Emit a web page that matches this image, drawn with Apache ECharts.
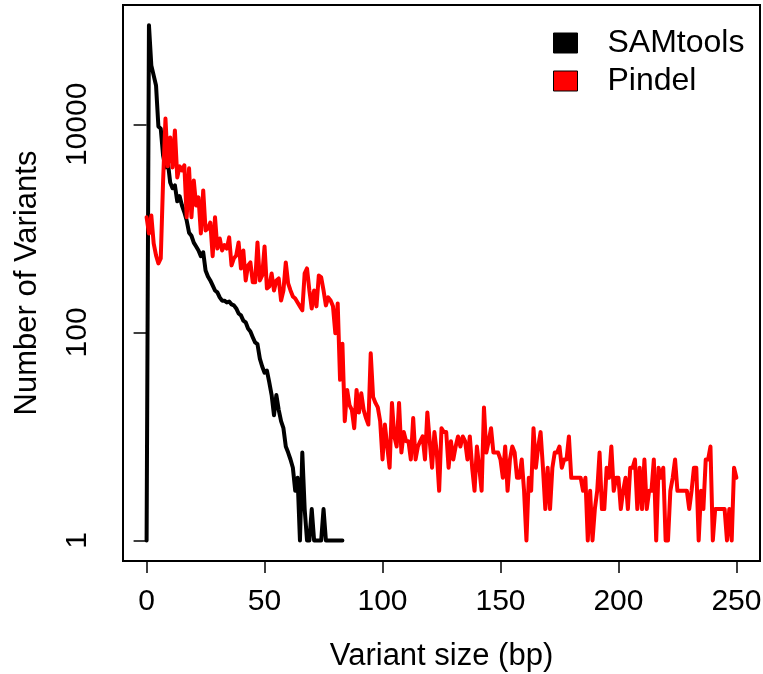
<!DOCTYPE html>
<html><head><meta charset="utf-8">
<script src="https://cdn.jsdelivr.net/npm/echarts@6/dist/echarts.min.js"></script>
<style>html,body{margin:0;padding:0;background:#fff}#c{width:763px;height:674px}</style>
</head><body><div id="c"></div>
<script>
const seriesNames = ['SAMtools', 'Pindel'];
// counts per variant size (index = size in bp)
const samtoolsCounts = [
 1, 90000, 36900, 29600, 23700, 9560, 9100, 5000, 3860, 4350,
 2760, 2430, 2590, 1820, 2040, 1660, 1430, 1190, 910, 850,
 730, 670, 614, 540, 590, 394, 345, 316, 283, 253,
 243, 217, 202, 202, 194, 198, 186, 182, 170, 152,
 146, 130, 125, 109, 102, 90, 80, 77, 56, 47,
 41, 43, 33, 25, 16, 25, 18, 14, 12, 8,
 7, 6, 5, 3, 4, 1, 7, 2, 1, 1,
 2, 1, 1, 1, 1, 2, 1, 1, 1, 1,
 1, 1, 1, 1
];
const pindelCounts = [
 1280, 895, 1330, 717, 550, 461, 515, 2890, 11400, 3950,
 7500, 3860, 8750, 3090, 3950, 3610, 4040, 1280, 3780, 1280,
 2890, 1660, 1990, 895, 2320, 957, 1000, 1140, 540, 1280,
 640, 800, 614, 690, 640, 820, 441, 515, 550, 733,
 412, 614, 316, 441, 471, 303, 303, 733, 316, 353,
 671, 265, 277, 369, 253, 316, 330, 203, 253, 471,
 296, 253, 222, 212, 194, 178, 163, 369, 412, 253,
 170, 253, 178, 353, 338, 253, 182, 217, 203, 178,
 98, 190, 35, 78, 14, 28, 20, 18, 12, 28,
 17, 26, 18, 15, 13, 63, 24, 21, 19, 14,
 6, 13, 8, 5, 21, 10, 8, 21, 7, 11,
 9, 9, 6, 15, 6, 8, 9, 10, 6, 17,
 9, 5, 11, 7, 3, 12, 11, 11, 5, 9,
 6, 8, 10, 8, 10, 9, 6, 10, 5, 3,
 8, 5, 3, 19, 7, 9, 12, 7, 7, 7,
 6, 4, 8, 3, 6, 8, 7, 4, 4, 6,
 3, 1, 4, 3, 12, 5, 8, 11, 5, 2,
 5, 2, 5, 7, 7, 8, 5, 6, 6, 10,
 4, 4, 4, 4, 4, 3, 4, 1, 3, 1,
 2, 3, 7, 2, 2, 5, 4, 8, 3, 4,
 4, 2, 3, 4, 2, 5, 5, 6, 2, 5,
 2, 6, 2, 3, 3, 6, 1, 5, 4, 5,
 1, 1, 3, 4, 6, 3, 3, 3, 3, 3,
 2, 3, 5, 5, 1, 3, 2, 6, 6, 8,
 1, 2, 2, 2, 2, 2, 1, 2, 1, 5,
 4
];
const xTickValues = [0, 50, 100, 150, 200, 250];
const yTickValues = [1, 100, 10000];
const xTitle = 'Variant size (bp)';
const yTitle = 'Number of Variants';
const seriesColors = ['#000000', '#ff0000'];

const font = '"Liberation Sans", Arial, Helvetica, sans-serif';
const chart = echarts.init(document.getElementById('c'), null, {renderer: 'canvas'});
const toPairs = arr => arr.map((c, i) => [i, c]);
const seriesData = [toPairs(samtoolsCounts), toPairs(pindelCounts)];

chart.setOption({
  animation: false,
  backgroundColor: '#ffffff',
  textStyle: {fontFamily: font},
  grid: {left: 123, top: 5, right: 3, bottom: 113, show: true, borderColor: '#000', borderWidth: 2,
         containLabel: false, outerBoundsMode: 'none'},
  legend: {
    orient: 'vertical', left: 553, top: 27, padding: 0, itemWidth: 24, itemHeight: 20, itemGap: 6, icon: 'rect',
    textStyle: {fontSize: 32, color: '#000', fontFamily: font, padding: [0, 0, 0, 25], lineHeight: 32},
    data: seriesNames.map((n, i) => ({name: n, itemStyle: {color: seriesColors[i], borderColor: '#000', borderWidth: 1}}))
  },
  xAxis: {
    type: 'value', min: -10, max: 260,
    axisLine: {show: false}, splitLine: {show: false},
    axisTick: {show: true, inside: false, length: 12, customValues: xTickValues, lineStyle: {color: '#000', width: 1.5}},
    axisLabel: {customValues: xTickValues, margin: 26, fontSize: 30, color: '#000', fontFamily: font},
    name: xTitle, nameLocation: 'middle', nameGap: 80, nameMoveOverlap: false,
    nameTextStyle: {fontSize: 31, color: '#000', fontFamily: font}
  },
  yAxis: {
    type: 'log', logBase: 10, min: 0.634, max: 140600,
    axisLine: {show: false}, splitLine: {show: false}, minorTick: {show: false},
    axisTick: {show: true, inside: false, length: 13, customValues: yTickValues, lineStyle: {color: '#000', width: 1.5}},
    axisLabel: {customValues: yTickValues, rotate: 90, margin: 30, fontSize: 30, color: '#000', fontFamily: font,
                formatter: v => String(Math.round(v))},
    name: yTitle, nameLocation: 'middle', nameGap: 80, nameRotate: 90, nameMoveOverlap: false,
    nameTextStyle: {fontSize: 31, color: '#000', fontFamily: font}
  },
  series: seriesNames.map((n, i) => ({
    name: n, type: 'line', data: seriesData[i], symbol: 'none', showSymbol: false,
    lineStyle: {color: seriesColors[i], width: 4, join: 'round', cap: 'round'},
    itemStyle: {color: seriesColors[i], borderColor: '#000', borderWidth: 1},
    z: 2 + i
  }))
});
</script>
</body></html>
